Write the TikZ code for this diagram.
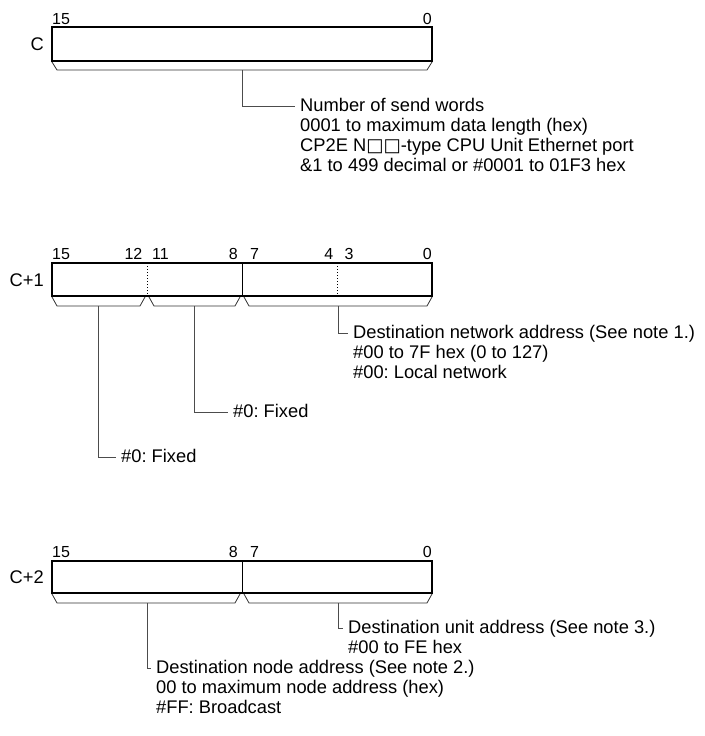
\documentclass[tikz,border=0pt]{standalone}
\usepackage{fontspec}
\setmainfont{Liberation Sans}
\newfontfamily\boxfont{DejaVu Sans}
\newcommand{\notelines}[1]{\begin{tabular}[t]{@{}l@{}}#1\end{tabular}}
\frenchspacing
\begin{document}
\begin{tikzpicture}[x=1pt,y=-1pt,
  word/.style={draw,line width=1.6pt},
  sep/.style={line width=1pt},
  dotsep/.style={line width=1pt,dotted},
  brace/.style={line width=0.8pt,draw=black!80},
  lead/.style={line width=0.9pt,draw=black!70},
  bitno/.style={font=\fontsize{16}{16}\selectfont,inner sep=0pt},
  regname/.style={font=\fontsize{18.3}{20}\selectfont,inner sep=0pt,anchor=east},
  note/.style={font=\fontsize{18.3}{20}\selectfont,anchor=mid west,inner xsep=5pt,inner ysep=0pt}]
  \useasboundingbox (0,0) rectangle (704,736);
  % word C
  \draw[word] (52,27) rectangle (432,61);
  \node[regname] (rC) at (44,44) {C};
  \node[bitno,anchor=base west] (p0-15) at (52,24) {15};
  \node[bitno,anchor=base east] (p0-0) at (432,24) {0};
  % brace C
  \draw[brace] (52,62) -- ++(5,8) -- (427,70) -- (432,62);
  \coordinate (kC) at (242,70);
  \node[note] (tC) at (295,109) {\notelines{Number of send words\\0001 to maximum data length (hex)\\CP2E N{\boxfont □□}-type CPU Unit Ethernet port\\\&1 to 499 decimal or \#0001 to 01F3 hex}};
  \draw[lead] (kC) |- ([yshift=3pt]tC.mid west);
  % word C+1
  \draw[word] (52,263) rectangle (432,296);
  \draw[dotsep] (147,263) -- (147,296);
  \draw[sep] (242,263) -- (242,296);
  \draw[dotsep] (337,263) -- (337,296);
  \node[regname] (rC1) at (44,280) {C+1};
  \foreach \x/\b/\a in {52/15/west,142.5/12/east,152/11/west,238/8/east,250/7/west,333.5/4/east,344.5/3/west,432/0/east}
    \node[bitno,anchor=base \a] (p1-\b) at (\x,259) {\b};
  % braces C+1
  \draw[brace] (52,297) -- ++(5,9) -- (140,306) -- (145,297);
  \draw[brace] (149,297) -- ++(5,9) -- (235,306) -- (240,297);
  \draw[brace] (244,297) -- ++(5,9) -- (427,306) -- (432,297);
  \coordinate (kA) at (98,306);
  \coordinate (kB) at (194,306);
  \coordinate (kN) at (338,306);
  \node[note] (tNet) at (348,336) {\notelines{Destination network address (See note 1.)\\\#00 to 7F hex (0 to 127)\\\#00: Local network}};
  \node[note] (tFixB) at (228,415) {\#0: Fixed};
  \node[note] (tFixA) at (116,460) {\#0: Fixed};
  \draw[lead] (kN) |- ([yshift=3pt]tNet.mid west);
  \draw[lead] (kB) |- ([yshift=3pt]tFixB.mid west);
  \draw[lead] (kA) |- ([yshift=3pt]tFixA.mid west);
  % word C+2
  \draw[word] (52,561) rectangle (432,593);
  \draw[sep] (242,561) -- (242,593);
  \node[regname] (rC2) at (44,577) {C+2};
  \foreach \x/\b/\a in {52/15/west,238/8/east,250/7/west,432/0/east}
    \node[bitno,anchor=base \a] (p2-\b) at (\x,557) {\b};
  % braces C+2
  \draw[brace] (52,594) -- ++(5,9) -- (235,603) -- (240,594);
  \draw[brace] (244,594) -- ++(5,9) -- (427,603) -- (432,594);
  \coordinate (kD) at (147,603);
  \coordinate (kU) at (338,603);
  \node[note] (tUnit) at (343,631) {\notelines{Destination unit address (See note 3.)\\\#00 to FE hex}};
  \node[note] (tNode) at (151,671) {\notelines{Destination node address (See note 2.)\\00 to maximum node address (hex)\\\#FF: Broadcast}};
  \draw[lead] (kU) |- ([yshift=3pt]tUnit.mid west);
  \draw[lead] (kD) |- ([yshift=3pt]tNode.mid west);
\end{tikzpicture}
\end{document}
